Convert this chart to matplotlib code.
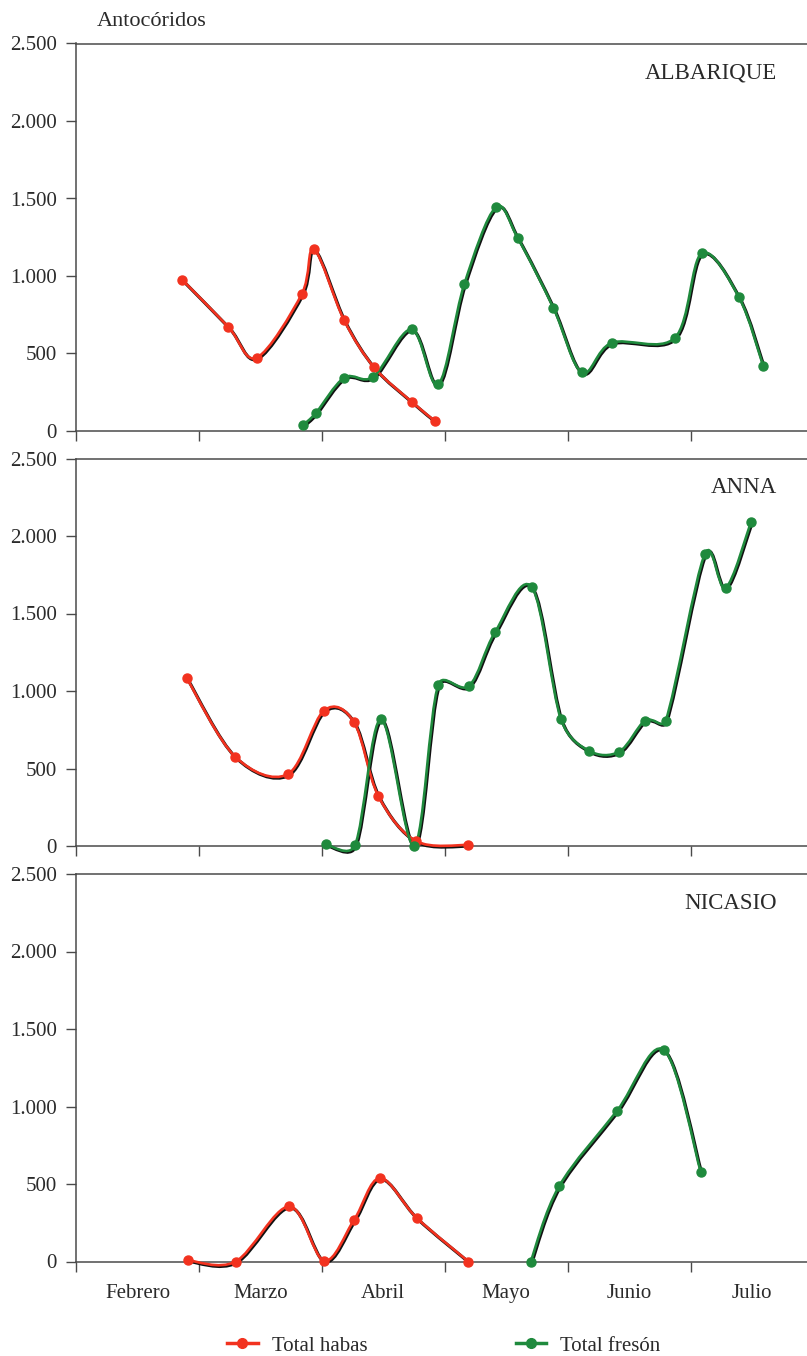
import numpy as np
import matplotlib
matplotlib.use('Agg')
import matplotlib.pyplot as plt
from matplotlib.path import Path
from matplotlib.patches import PathPatch
from matplotlib.lines import Line2D
import matplotlib.transforms as mtransforms
from matplotlib.ticker import FuncFormatter

plt.rcParams['font.family'] = ['Liberation Serif', 'DejaVu Serif']

meses = ['Febrero', 'Marzo', 'Abril', 'Mayo', 'Junio', 'Julio']
y_ticks = [0, 500, 1000, 1500, 2000, 2500]
fincas = ['ALBARIQUE', 'ANNA', 'NICASIO']
series_names = ['Total habas', 'Total fresón']

# x: fecha expresada en meses desde el 1 de febrero
alb_habas_x = [0.865, 1.239, 1.470, 1.836, 1.937, 2.181, 2.425, 2.731, 2.921]
alb_habas_y = [975, 672, 473, 881, 1172, 716, 411, 189, 64]
alb_freson_x = [1.849, 1.950, 2.183, 2.419, 2.731, 2.948, 3.159, 3.415, 3.594,
                3.884, 4.115, 4.359, 4.874, 5.091, 5.395, 5.592]
alb_freson_y = [39, 114, 344, 350, 656, 301, 946, 1442, 1246, 795, 378, 569,
                602, 1146, 862, 419]

anna_habas_x = [0.901, 1.294, 1.722, 2.018, 2.262, 2.460, 2.766, 3.187]
anna_habas_y = [1083, 577, 463, 874, 799, 323, 32, 6]
anna_freson_x = [2.032, 2.270, 2.482, 2.753, 2.948, 3.200, 3.409, 3.708, 3.946,
                 4.174, 4.421, 4.630, 4.798, 5.118, 5.286, 5.492]
anna_freson_y = [10, 5, 818, 3, 1040, 1034, 1378, 1671, 818, 614, 609, 809,
                 809, 1886, 1665, 2089]

nic_habas_x = [0.908, 1.299, 1.734, 2.019, 2.263, 2.474, 2.774, 3.193]
nic_habas_y = [8, 0, 355, 5, 269, 538, 280, 0]
nic_freson_x = [3.700, 3.930, 4.404, 4.783, 5.084]
nic_freson_y = [0, 484, 974, 1365, 576]

habas = [(alb_habas_x, alb_habas_y), (anna_habas_x, anna_habas_y), (nic_habas_x, nic_habas_y)]
freson = [(alb_freson_x, alb_freson_y), (anna_freson_x, anna_freson_y), (nic_freson_x, nic_freson_y)]

RED = '#f2321f'
GREEN = '#1f8a3d'
SPINE = '#4a4a4a'
TXT = '#2a2a2a'


def smooth_path(ax, x, y):
    """Spreadsheet-style smoothed line (Bezier, 1/6 tension, arm limited to half segment)."""
    pts = ax.transData.transform(np.column_stack([x, y]).astype(float))
    n = len(pts)
    verts = [pts[0]]
    codes = [Path.MOVETO]
    for i in range(n - 1):
        p0 = pts[i - 1] if i > 0 else pts[i]
        p1 = pts[i]
        p2 = pts[i + 1]
        p3 = pts[i + 2] if i + 2 < n else pts[i + 1]
        d12 = np.hypot(*(p2 - p1))
        v02 = p2 - p0
        v13 = p3 - p1
        d02 = max(np.hypot(*v02), 1e-9)
        d13 = max(np.hypot(*v13), 1e-9)
        a1 = min(d02 / 6.0, d12 / 2.0)
        a2 = min(d13 / 6.0, d12 / 2.0)
        c1 = p1 + v02 / d02 * a1
        c2 = p2 - v13 / d13 * a2
        verts += [c1, c2, p2]
        codes += [Path.CURVE4] * 3
    verts = ax.transData.inverted().transform(np.array(verts))
    return Path(verts, codes)


fig = plt.figure(figsize=(8.07, 13.56), dpi=100)
left = 76 / 807
width = 731 / 807
h = 387.5 / 1356
bottoms = [1 - 431 / 1356, 1 - 846 / 1356, 1 - 1261.5 / 1356]

fmt = FuncFormatter(lambda v, p: '{:,.0f}'.format(v).replace(',', '.'))
shadow = mtransforms.ScaledTranslation(1.0 / 100, -1.2 / 100, fig.dpi_scale_trans)

for k in range(3):
    ax = fig.add_axes([left, bottoms[k], width, h])
    ax.set_xlim(0, 731 / 122.9)
    ax.set_ylim(0, 2500)
    for s in ['left', 'bottom', 'top']:
        ax.spines[s].set_color(SPINE)
        ax.spines[s].set_linewidth(1.1)
    ax.spines['right'].set_visible(False)
    ax.set_yticks(y_ticks)
    ax.yaxis.set_major_formatter(fmt)
    ax.tick_params(axis='y', direction='out', length=7, width=1.0, color=SPINE,
                   labelsize=15, labelcolor=TXT, pad=7)
    ax.set_xticks(range(0, 6))
    ax.set_xticklabels([])
    ax.tick_params(axis='x', which='major', direction='out', length=7, width=1.0, color=SPINE)
    if k == 2:
        ax.set_xticks(np.arange(0.5, 6, 1.0), minor=True)
        ax.set_xticklabels(meses, minor=True)
        ax.tick_params(axis='x', which='minor', length=0, labelsize=15,
                       labelcolor=TXT, pad=16)

    for (xs, ys), col in [(habas[k], RED), (freson[k], GREEN)]:
        p = smooth_path(ax, xs, ys)
        ax.add_patch(PathPatch(p, facecolor='none', edgecolor='#111111', lw=2.3,
                               transform=ax.transData + shadow, zorder=3, clip_on=False))
        ax.add_patch(PathPatch(p, facecolor='none', edgecolor=col, lw=1.9, zorder=4,
                               clip_on=False))
        ax.plot(xs, ys, 'o', color=col, ms=6.5, mec=col, zorder=5, clip_on=False)

    ax.text(0.959, 0.925, fincas[k], transform=ax.transAxes, ha='right', va='center',
            fontsize=16.5, color=TXT)

fig.text(97 / 807, 1 - 22 / 1356, 'Antocóridos', ha='left', va='center',
         fontsize=16, color=TXT)

handles = [Line2D([], [], color=RED, lw=2.5, marker='o', ms=7, mec=RED),
           Line2D([], [], color=GREEN, lw=2.5, marker='o', ms=7, mec=GREEN)]
fig.legend(handles, series_names, loc='center', bbox_to_anchor=(444 / 807, 1 - 1346 / 1356),
           ncol=2, frameon=False, fontsize=15, handlelength=1.45, handletextpad=0.7,
           columnspacing=7.1, labelcolor=TXT, borderpad=0, borderaxespad=0)

fig.savefig('out.png', dpi=100)
